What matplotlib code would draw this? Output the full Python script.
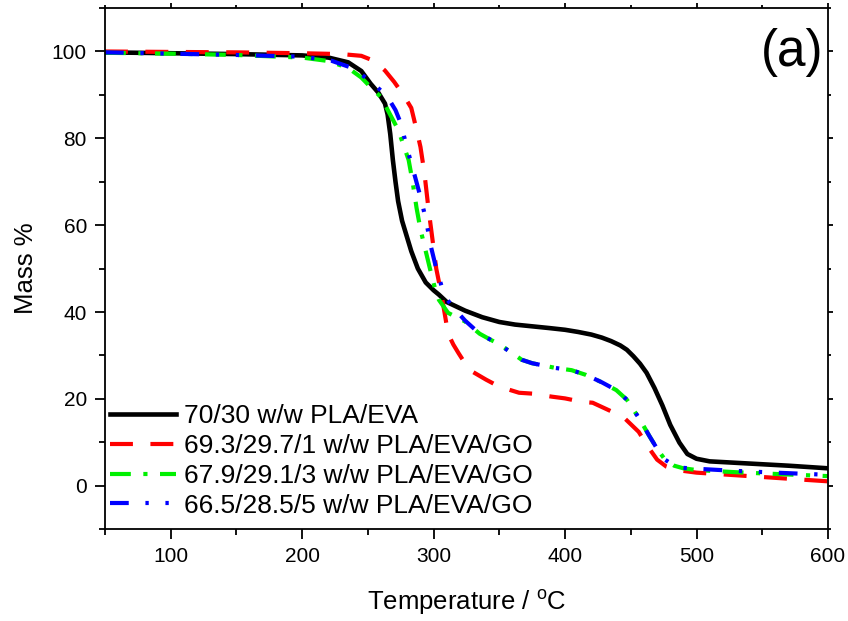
import matplotlib
matplotlib.use("Agg")
import matplotlib.pyplot as plt
from matplotlib.ticker import MultipleLocator

plt.rcParams['font.family'] = ['Liberation Sans', 'DejaVu Sans']

# 70/30 w/w PLA/EVA
t_black = [50, 100, 150, 200, 220, 235, 245, 252, 258, 263, 265, 267, 269, 271, 273, 276,
           279, 283, 288, 294, 300, 304, 310, 324, 337, 350, 362, 375, 388, 400, 410, 420, 428,
           435, 442, 447, 452, 457, 462, 468, 474, 480, 487, 493, 500, 510, 540, 570, 600]
m_black = [99.8, 99.6, 99.4, 99.1, 98.6, 97.5, 95.5, 92.6, 90.5, 88, 85.5, 81, 75, 70, 65.5, 61,
           58, 54, 50, 46.8, 45, 44, 42.3, 40.3, 38.8, 37.7, 37.1, 36.7, 36.3, 35.9, 35.4, 34.8, 34.1,
           33.3, 32.3, 31.3, 29.8, 28.1, 26, 22.5, 18.5, 14, 9.9, 7.3, 6.2, 5.6, 5.1, 4.6, 4.0]

# 69.3/29.7/1 w/w PLA/EVA/GO
t_red = [50, 100, 150, 200, 230, 245, 255, 263, 270, 277, 283, 287, 290, 293, 296, 299, 302,
         306, 311, 315, 319, 327, 340, 350, 365, 375, 390, 400, 413, 421, 436, 444, 456, 463,
         470, 477, 485, 500, 530, 560, 600]
m_red = [100, 99.9, 99.8, 99.6, 99.4, 99, 97.8, 95.6, 93, 90, 87, 82, 78, 72, 64, 57, 50,
         44, 35, 32.5, 30.5, 26.7, 24.4, 22.8, 21.4, 21.2, 20.5, 20.1, 19.3, 19.1, 17, 15.9, 12.4, 9,
         6, 4.4, 3.6, 3.0, 2.4, 1.8, 1.0]

# 67.9/29.1/3 w/w PLA/EVA/GO
t_green = [50, 100, 150, 200, 220, 235, 245, 253, 260, 266, 273, 277, 281, 284, 287, 290, 294,
           298, 301, 304, 311, 324, 335, 344, 350, 367, 375, 393, 405, 416, 428, 439, 447, 457,
           464, 470, 476, 483, 490, 500, 530, 560, 600]
m_green = [99.7, 99.5, 99.2, 98.6, 97.8, 96.2, 94, 91.5, 89.5, 86, 82, 78.5, 75, 70, 64, 59, 54,
           49, 45.5, 42.8, 39.8, 37.8, 35, 33.5, 32.6, 29, 28.2, 27.1, 26.6, 25.5, 23.8, 22, 19.8, 15.2,
           11.5, 8.5, 6, 4.6, 4.0, 3.6, 3.1, 2.7, 2.2]

# 66.5/28.5/5 w/w PLA/EVA/GO
t_blue = [50, 100, 150, 200, 222, 240, 252, 260, 266, 271, 275, 280, 286, 290, 294, 298, 302,
          306, 310, 315, 324, 335, 344, 350, 367, 375, 393, 405, 416, 428, 439, 447, 457, 464,
          470, 476, 483, 490, 500, 530, 560, 600]
m_blue = [99.8, 99.5, 99.2, 98.8, 97.9, 96, 93, 91, 89, 86.5, 83.5, 77.5, 71, 66.5, 61.5, 55, 50,
          46, 43, 41, 38, 35, 33.5, 32.5, 29, 28.2, 27.1, 26.6, 25.5, 23.8, 22, 19.8, 15.2, 11.5,
          8.5, 6, 4.6, 4.1, 3.9, 3.4, 3.0, 2.5]

labels = ['70/30 w/w PLA/EVA', '69.3/29.7/1 w/w PLA/EVA/GO',
          '67.9/29.1/3 w/w PLA/EVA/GO', '66.5/28.5/5 w/w PLA/EVA/GO']

fig = plt.figure(figsize=(8.48, 6.21), dpi=100)
ax = fig.add_axes([0.1238, 0.148, 0.8526, 0.839])

ax.plot(t_black, m_black, color='black', lw=3.3, label=labels[0])
ax.plot(t_red, m_red, color='red', lw=3.0, ls=(0, (5.5, 4.2)), label=labels[1])
ax.plot(t_green, m_green, color='#00f000', lw=3.0, ls=(0, (5, 3, 1, 3)), label=labels[2])
ax.plot(t_blue, m_blue, color='blue', lw=3.0, ls=(0, (4.5, 4, 0.8, 4, 0.8, 4)), label=labels[3])

ax.set_xlim(50, 600)
ax.set_ylim(-10, 110)
ax.xaxis.set_major_locator(MultipleLocator(100))
ax.xaxis.set_minor_locator(MultipleLocator(50))
ax.yaxis.set_major_locator(MultipleLocator(20))
ax.yaxis.set_minor_locator(MultipleLocator(10))
ax.tick_params(which='both', direction='out', width=1.3, labelsize=15,
               top=True, right=True, pad=6)
ax.tick_params(which='major', length=7)
ax.tick_params(which='minor', length=4)
for s in ax.spines.values():
    s.set_linewidth(1.3)

# shorter ticks on top and right
for axis in (ax.xaxis, ax.yaxis):
    for t in axis.get_major_ticks():
        t.tick2line.set_markersize(3.5)
    for t in axis.get_minor_ticks():
        t.tick2line.set_markersize(2)

ax.set_xlabel('Temperature / $^\\mathregular{o}$C', fontsize=18.5, labelpad=15)
ax.set_ylabel('Mass %', fontsize=18.5, labelpad=10)

ax.text(0.993, 0.914, '(a)', transform=ax.transAxes, fontsize=37,
        ha='right', va='center')

ax.legend(loc='lower left', bbox_to_anchor=(0.0, 0.012), frameon=False,
          fontsize=19, handlelength=2.5, handletextpad=0.3, labelspacing=0.22,
          borderaxespad=0, borderpad=0.2)

fig.savefig('out.png', dpi=100)
